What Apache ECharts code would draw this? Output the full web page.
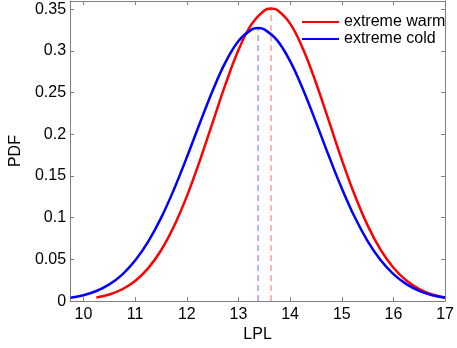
<!DOCTYPE html>
<html>
<head>
<meta charset="utf-8">
<script src="https://cdn.jsdelivr.net/npm/echarts@6/dist/echarts.min.js"></script>
<style>
html,body{margin:0;padding:0;background:#fff;}
#chart{width:457px;height:348px;}
</style>
</head>
<body>
<div id="chart"></div>
<script>
// Values
const seriesNames = ['extreme warm', 'extreme cold'];
const warmX = [10.25,10.5,10.75,11,11.25,11.5,11.75,12,12.25,12.5,12.75,13,13.25,13.5,13.63,13.75,14,14.25,14.5,14.75,15,15.25,15.5,15.75,16,16.25,16.5,16.75,17];
const warmPdf = [0.0042,0.0079,0.0142,0.0242,0.0393,0.0607,0.0895,0.1256,0.1680,0.2142,0.2602,0.3011,0.3319,0.3487,0.3510,0.3491,0.3329,0.3025,0.2619,0.2161,0.1698,0.1272,0.0908,0.0617,0.0400,0.0247,0.0145,0.0081,0.0043];
const coldX = [9.75,10,10.25,10.5,10.75,11,11.25,11.5,11.75,12,12.25,12.5,12.75,13,13.25,13.38,13.5,13.75,14,14.25,14.5,14.75,15,15.25,15.5,15.75,16,16.25,16.5,16.75,17];
const coldPdf = [0.0039,0.0070,0.0121,0.0200,0.0318,0.0486,0.0710,0.0995,0.1338,0.1724,0.2130,0.2524,0.2866,0.3120,0.3257,0.3276,0.3260,0.3128,0.2878,0.2538,0.2147,0.1740,0.1353,0.1008,0.0720,0.0493,0.0324,0.0204,0.0123,0.0071,0.0040];
const warmMean = 13.63, warmPeak = 0.351;
const coldMean = 13.38, coldPeak = 0.3276;
const xTicks = [10,11,12,13,14,15,16,17];

const zip = (xs, ys) => xs.map((x, i) => [x, ys[i]]);
const FONT = "'Liberation Sans', Arial, Helvetica, sans-serif";
const axisGray = '#7f7f7f';

const chart = echarts.init(document.getElementById('chart'), null, {renderer: 'canvas'});

const xCommon = {
  type: 'value', min: 9.74, max: 17,
  axisLine: {onZero: false, lineStyle: {color: axisGray, width: 1}},
  axisTick: {inside: true, length: 4, customValues: xTicks, lineStyle: {color: axisGray}},
  splitLine: {show: false}
};
const yCommon = {
  type: 'value', min: 0, max: 0.36, interval: 0.05,
  axisLine: {show: true, onZero: false, lineStyle: {color: axisGray, width: 1}},
  axisTick: {show: true, inside: true, length: 4, lineStyle: {color: axisGray}},
  splitLine: {show: false}
};

chart.setOption({
  animation: false,
  backgroundColor: '#fff',
  textStyle: {fontFamily: FONT},
  grid: {left: 56, right: 10, top: 1, bottom: 38},
  legend: {
    data: seriesNames,
    orient: 'vertical',
    left: 302, top: 14, padding: 0,
    itemWidth: 37, itemHeight: 14, itemGap: 1,
    textStyle: {fontSize: 16, color: '#000', fontFamily: FONT},
    icon: 'path://M0,6 L37,6 L37,8 L0,8 Z'
  },
  xAxis: [
    Object.assign({}, xCommon, {
      position: 'bottom',
      name: 'LPL', nameLocation: 'middle', nameGap: 22,
      nameTextStyle: {fontSize: 16, color: '#000', fontFamily: FONT},
      axisLabel: {customValues: xTicks, fontSize: 16, color: '#000', margin: 5, fontFamily: FONT}
    }),
    Object.assign({}, xCommon, {position: 'top', axisLabel: {show: false}})
  ],
  yAxis: [
    Object.assign({}, yCommon, {
      position: 'left',
      name: 'PDF', nameLocation: 'middle', nameGap: 36,
      nameTextStyle: {fontSize: 16, color: '#000', fontFamily: FONT},
      axisLabel: {fontSize: 16, color: '#000', margin: 4, fontFamily: FONT,
        formatter: v => (Math.abs(v / 0.05 - Math.round(v / 0.05)) > 1e-6 ? '' : String(+v.toFixed(2)))}
    }),
    Object.assign({}, yCommon, {position: 'right', axisLabel: {show: false}})
  ],
  series: [
    {
      name: 'extreme warm', type: 'line', data: zip(warmX, warmPdf),
      smooth: 0.4, symbol: 'none',
      itemStyle: {color: '#ff0000'}, lineStyle: {color: '#ff0000', width: 2.5}, z: 4
    },
    {
      name: 'extreme cold', type: 'line', data: zip(coldX, coldPdf),
      smooth: 0.4, symbol: 'none',
      itemStyle: {color: '#0000ff'}, lineStyle: {color: '#0000ff', width: 2.5}, z: 5
    },
    {
      name: 'warm mean', type: 'line', data: [[warmMean, 0], [warmMean, warmPeak]],
      symbol: 'none', lineStyle: {color: '#ff6a6a', width: 1, type: [6, 4]}, z: 2
    },
    {
      name: 'cold mean', type: 'line', data: [[coldMean, 0], [coldMean, coldPeak]],
      symbol: 'none', lineStyle: {color: '#6a6aff', width: 1, type: [6, 4]}, z: 2
    }
  ]
});
</script>
</body>
</html>
